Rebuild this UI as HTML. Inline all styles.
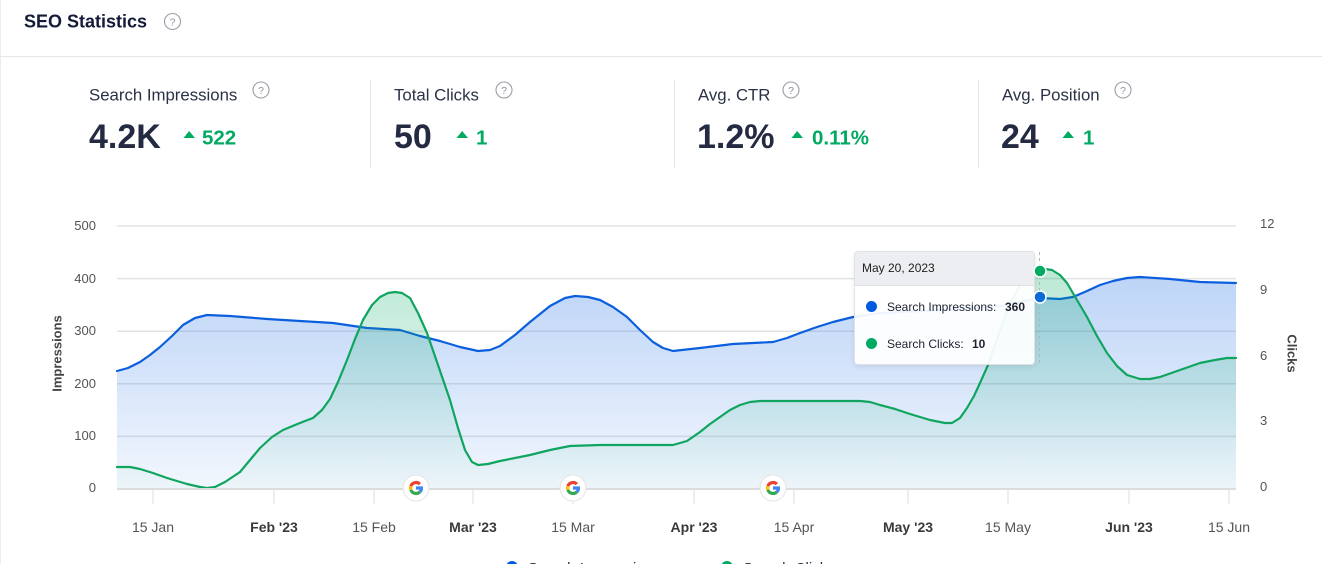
<!DOCTYPE html>
<html><head><meta charset="utf-8">
<style>
html,body{margin:0;padding:0;background:#fff;}
body{width:1322px;height:564px;overflow:hidden;position:relative;font-family:"Liberation Sans",Arial,sans-serif;}
svg{position:absolute;left:0;top:0;}
.tt{position:absolute;left:854px;top:251px;width:179px;height:112px;border:1px solid #e0e2e6;border-radius:4px;background:rgba(255,255,255,0.93);box-shadow:0 2px 6px rgba(0,0,0,0.08);overflow:hidden;font-size:12px;color:#1d2230;}
.tt .hd{height:33px;background:#eceef1;border-bottom:1px solid #dfe1e5;line-height:33px;padding-left:7px;color:#222;}
.tt .row{position:absolute;left:0;height:16px;line-height:16px;white-space:nowrap;}
.tt .dot{position:absolute;left:11px;top:2px;width:11px;height:11px;border-radius:50%;}
.tt .lb{position:absolute;left:32px;top:0;}
.tt b{position:absolute;top:0;}
</style></head>
<body>
<svg width="1322" height="564" viewBox="0 0 1322 564" xmlns="http://www.w3.org/2000/svg">
<defs>
<linearGradient id="gb" gradientUnits="userSpaceOnUse" x1="0" y1="275" x2="0" y2="489">
<stop offset="0" stop-color="#005ae0" stop-opacity="0.26"/>
<stop offset="1" stop-color="#005ae0" stop-opacity="0.05"/>
</linearGradient>
<linearGradient id="gg" gradientUnits="userSpaceOnUse" x1="0" y1="275" x2="0" y2="489">
<stop offset="0" stop-color="#00aa63" stop-opacity="0.26"/>
<stop offset="1" stop-color="#00aa63" stop-opacity="0.02"/>
</linearGradient>
</defs>

<!-- card borders -->
<line x1="0.5" y1="0" x2="0.5" y2="564" stroke="#ececec" stroke-width="1"/>
<line x1="0" y1="56.5" x2="1322" y2="56.5" stroke="#e6e7ea" stroke-width="1"/>

<!-- header -->
<text x="24" y="27.5" font-size="18" font-weight="bold" fill="#141b38">SEO Statistics</text>
<circle cx="172.5" cy="21.5" r="8" fill="none" stroke="#9a9da6" stroke-width="1.1"/>
<text x="172.5" y="25.5" font-size="10.5" fill="#8d909b" text-anchor="middle">?</text>

<!-- stats -->
<g font-size="16.8" fill="#2b3147">
<text x="89" y="100.5">Search Impressions</text>
<text x="394" y="100.5">Total Clicks</text>
<text x="698" y="100.5">Avg. CTR</text>
<text x="1002" y="100.5">Avg. Position</text>
</g>
<g fill="none" stroke="#9a9da6" stroke-width="1.1">
<circle cx="261" cy="90" r="8"/>
<circle cx="504" cy="90" r="8"/>
<circle cx="791" cy="90" r="8"/>
<circle cx="1123" cy="90" r="8"/>
</g>
<g font-size="10.5" fill="#8d909b" text-anchor="middle">
<text x="261" y="94">?</text>
<text x="504" y="94">?</text>
<text x="791" y="94">?</text>
<text x="1123" y="94">?</text>
</g>
<g font-size="34" font-weight="bold" fill="#232a42">
<text x="89" y="148">4.2K</text>
<text x="394" y="148">50</text>
<text x="697" y="148">1.2%</text>
<text x="1001" y="148">24</text>
</g>
<g fill="#00aa63">
<polygon points="183.5,138 195,138 189.2,131"/>
<polygon points="456.5,138 468,138 462.2,131"/>
<polygon points="791.5,138 803,138 797.2,131"/>
<polygon points="1062.5,138 1074,138 1068.2,131"/>
</g>
<g font-size="20.5" font-weight="bold" fill="#00aa63">
<text x="202" y="144.5">522</text>
<text x="476" y="144.5">1</text>
<text x="812" y="144.5">0.11%</text>
<text x="1083" y="144.5">1</text>
</g>
<g stroke="#e6e7ea" stroke-width="1">
<line x1="370.5" y1="80" x2="370.5" y2="168"/>
<line x1="674.5" y1="80" x2="674.5" y2="168"/>
<line x1="978.5" y1="80" x2="978.5" y2="168"/>
</g>

<!-- grid -->
<g stroke="#e3e3e3" stroke-width="1.5">
<line x1="117" y1="226" x2="1236" y2="226"/>
<line x1="117" y1="278.6" x2="1236" y2="278.6"/>
<line x1="117" y1="331.2" x2="1236" y2="331.2"/>
<line x1="117" y1="383.8" x2="1236" y2="383.8"/>
<line x1="117" y1="436.4" x2="1236" y2="436.4"/>
</g>

<!-- blue area -->
<path fill="url(#gb)" d="M117,371 L128,368 L140,362 L150,355 L160,347 L172,336 L183,325 L195,318 L207,315 L230,316 L267,319 L300,321 L333,323 L367,328 L400,330 L420,336 L440,341 L460,347 L478,351 L490,350 L500,346 L515,335 L530,322 L550,306 L565,298 L575,296 L588,297 L600,300 L613,307 L627,317 L640,330 L653,342 L663,348 L673,351 L700,348 L733,344 L773,342 L787,338 L800,333 L817,327 L833,322 L853,317 L880,313 L920,311 L960,309 L1000,306 L1020,302 L1040,298 L1060,299 L1073,297 L1087,291 L1100,285 L1113,281 L1127,278 L1140,277 L1170,279 L1200,282 L1236,283 L1236,489 L117,489 Z"/>
<path fill="none" stroke="#0b5fde" stroke-width="2.2" stroke-linejoin="round" stroke-linecap="round" d="M117,371 L128,368 L140,362 L150,355 L160,347 L172,336 L183,325 L195,318 L207,315 L230,316 L267,319 L300,321 L333,323 L367,328 L400,330 L420,336 L440,341 L460,347 L478,351 L490,350 L500,346 L515,335 L530,322 L550,306 L565,298 L575,296 L588,297 L600,300 L613,307 L627,317 L640,330 L653,342 L663,348 L673,351 L700,348 L733,344 L773,342 L787,338 L800,333 L817,327 L833,322 L853,317 L880,313 L920,311 L960,309 L1000,306 L1020,302 L1040,298 L1060,299 L1073,297 L1087,291 L1100,285 L1113,281 L1127,278 L1140,277 L1170,279 L1200,282 L1236,283"/>

<!-- green area -->
<path fill="url(#gg)" d="M117,467 L130,467 L140,469 L153,473 L167,478 L187,484 L200,487 L207,488 L215,487 L225,482 L240,472 L250,460 L260,448 L272,437 L283,430 L295,425 L305,421 L313,418 L322,410 L330,399 L338,382 L347,360 L355,339 L363,320 L372,305 L380,297 L388,293 L395,292 L402,293 L410,298 L418,313 L427,333 L438,365 L450,400 L458,428 L465,450 L472,462 L478,465 L488,464 L500,461 L530,455 L550,450 L570,446 L600,445 L673,445 L687,441 L700,432 L710,424 L720,417 L730,410 L740,405 L750,402 L760,401 L860,401 L870,402 L880,405 L895,409 L910,414 L930,420 L945,423 L952,423 L960,418 L967,408 L974,396 L980,383 L988,365 L995,345 L1003,322 L1012,300 L1020,285 L1028,276 L1036,271 L1045,269 L1052,270 L1060,275 L1067,283 L1077,300 L1087,317 L1097,336 L1107,353 L1117,366 L1127,375 L1140,379 L1150,379 L1160,377 L1180,370 L1200,363 L1215,360 L1227,358 L1236,358 L1236,489 L117,489 Z"/>
<path fill="none" stroke="#0fa55f" stroke-width="2.2" stroke-linejoin="round" stroke-linecap="round" d="M117,467 L130,467 L140,469 L153,473 L167,478 L187,484 L200,487 L207,488 L215,487 L225,482 L240,472 L250,460 L260,448 L272,437 L283,430 L295,425 L305,421 L313,418 L322,410 L330,399 L338,382 L347,360 L355,339 L363,320 L372,305 L380,297 L388,293 L395,292 L402,293 L410,298 L418,313 L427,333 L438,365 L450,400 L458,428 L465,450 L472,462 L478,465 L488,464 L500,461 L530,455 L550,450 L570,446 L600,445 L673,445 L687,441 L700,432 L710,424 L720,417 L730,410 L740,405 L750,402 L760,401 L860,401 L870,402 L880,405 L895,409 L910,414 L930,420 L945,423 L952,423 L960,418 L967,408 L974,396 L980,383 L988,365 L995,345 L1003,322 L1012,300 L1020,285 L1028,276 L1036,271 L1045,269 L1052,270 L1060,275 L1067,283 L1077,300 L1087,317 L1097,336 L1107,353 L1117,366 L1127,375 L1140,379 L1150,379 L1160,377 L1180,370 L1200,363 L1215,360 L1227,358 L1236,358"/>

<!-- baseline and ticks -->
<line x1="117" y1="489" x2="1236" y2="489" stroke="#dcdcdc" stroke-width="2"/>
<g stroke="#e2e2e2" stroke-width="1.2">
<line x1="153" y1="490" x2="153" y2="504"/>
<line x1="274" y1="490" x2="274" y2="504"/>
<line x1="374" y1="490" x2="374" y2="504"/>
<line x1="473" y1="490" x2="473" y2="504"/>
<line x1="573" y1="490" x2="573" y2="504"/>
<line x1="694" y1="490" x2="694" y2="504"/>
<line x1="794" y1="490" x2="794" y2="504"/>
<line x1="908" y1="490" x2="908" y2="504"/>
<line x1="1008" y1="490" x2="1008" y2="504"/>
<line x1="1129" y1="490" x2="1129" y2="504"/>
<line x1="1229" y1="490" x2="1229" y2="504"/>
</g>

<!-- y axis labels -->
<g font-size="13" fill="#555" text-anchor="end">
<text x="96" y="230">500</text>
<text x="96" y="283">400</text>
<text x="96" y="335">300</text>
<text x="96" y="388">200</text>
<text x="96" y="440">100</text>
<text x="96" y="492">0</text>
</g>
<g font-size="13" fill="#555">
<text x="1260" y="228">12</text>
<text x="1260" y="294">9</text>
<text x="1260" y="360">6</text>
<text x="1260" y="425">3</text>
<text x="1260" y="491">0</text>
</g>
<text transform="translate(61.5,353.5) rotate(-90)" font-size="13" font-weight="bold" fill="#444" text-anchor="middle">Impressions</text>
<text transform="translate(1287.5,353.5) rotate(90)" font-size="13" font-weight="bold" fill="#444" text-anchor="middle">Clicks</text>

<!-- x labels -->
<g font-size="14" fill="#555" text-anchor="middle">
<text x="153" y="532">15 Jan</text>
<text x="374" y="532">15 Feb</text>
<text x="573" y="532">15 Mar</text>
<text x="794" y="532">15 Apr</text>
<text x="1008" y="532">15 May</text>
<text x="1229" y="532">15 Jun</text>
</g>
<g font-size="14" font-weight="bold" fill="#3a3a3a" text-anchor="middle">
<text x="274" y="532">Feb '23</text>
<text x="473" y="532">Mar '23</text>
<text x="694" y="532">Apr '23</text>
<text x="908" y="532">May '23</text>
<text x="1129" y="532">Jun '23</text>
</g>

<!-- google icons -->
<g>
<g transform="translate(416,488)">
<circle r="13" fill="#fff" stroke="#e3e3e3" stroke-width="1"/>
<g fill="none" stroke-width="3.2">
<path d="M3.89,-3.89 A5.5,5.5 0 0 0 -5.17,-1.88" stroke="#ea4335"/>
<path d="M-5.17,-1.88 A5.5,5.5 0 0 0 -5.17,1.88" stroke="#fbbc05"/>
<path d="M-5.17,1.88 A5.5,5.5 0 0 0 3.89,3.89" stroke="#34a853"/>
<path d="M3.89,3.89 A5.5,5.5 0 0 0 5.5,0 M0,0 L7,0" stroke="#4285f4"/>
</g>
</g>
<g transform="translate(573,488)">
<circle r="13" fill="#fff" stroke="#e3e3e3" stroke-width="1"/>
<g fill="none" stroke-width="3.2">
<path d="M3.89,-3.89 A5.5,5.5 0 0 0 -5.17,-1.88" stroke="#ea4335"/>
<path d="M-5.17,-1.88 A5.5,5.5 0 0 0 -5.17,1.88" stroke="#fbbc05"/>
<path d="M-5.17,1.88 A5.5,5.5 0 0 0 3.89,3.89" stroke="#34a853"/>
<path d="M3.89,3.89 A5.5,5.5 0 0 0 5.5,0 M0,0 L7,0" stroke="#4285f4"/>
</g>
</g>
<g transform="translate(773,488)">
<circle r="13" fill="#fff" stroke="#e3e3e3" stroke-width="1"/>
<g fill="none" stroke-width="3.2">
<path d="M3.89,-3.89 A5.5,5.5 0 0 0 -5.17,-1.88" stroke="#ea4335"/>
<path d="M-5.17,-1.88 A5.5,5.5 0 0 0 -5.17,1.88" stroke="#fbbc05"/>
<path d="M-5.17,1.88 A5.5,5.5 0 0 0 3.89,3.89" stroke="#34a853"/>
<path d="M3.89,3.89 A5.5,5.5 0 0 0 5.5,0 M0,0 L7,0" stroke="#4285f4"/>
</g>
</g>
</g>

<!-- legend (partly cut off) -->
<circle cx="512" cy="567" r="6" fill="#005ae0"/>
<text x="528" y="573" font-size="15" fill="#2b3147">Search Impressions</text>
<circle cx="727" cy="567" r="6" fill="#00aa63"/>
<text x="743" y="573" font-size="15" fill="#2b3147">Search Clicks</text>
</svg>

<div class="tt">
<div class="hd">May 20, 2023</div>
<div class="row" style="top:47px;width:179px;"><span class="dot" style="background:#005ae0"></span><span class="lb">Search Impressions:</span><b style="left:150px">360</b></div>
<div class="row" style="top:84px;width:179px;"><span class="dot" style="background:#00aa63"></span><span class="lb">Search Clicks:</span><b style="left:117px">10</b></div>
</div>

<svg width="1322" height="564" viewBox="0 0 1322 564" xmlns="http://www.w3.org/2000/svg" style="pointer-events:none">
<line x1="1039.5" y1="252" x2="1039.5" y2="366" stroke="#b5b5b5" stroke-width="1" stroke-dasharray="3,3"/>
<circle cx="1040" cy="271" r="6" fill="#00aa63" stroke="#fff" stroke-width="1.5"/>
<circle cx="1040" cy="297" r="6" fill="#0b6ad8" stroke="#fff" stroke-width="1.5"/>
</svg>
</body></html>
